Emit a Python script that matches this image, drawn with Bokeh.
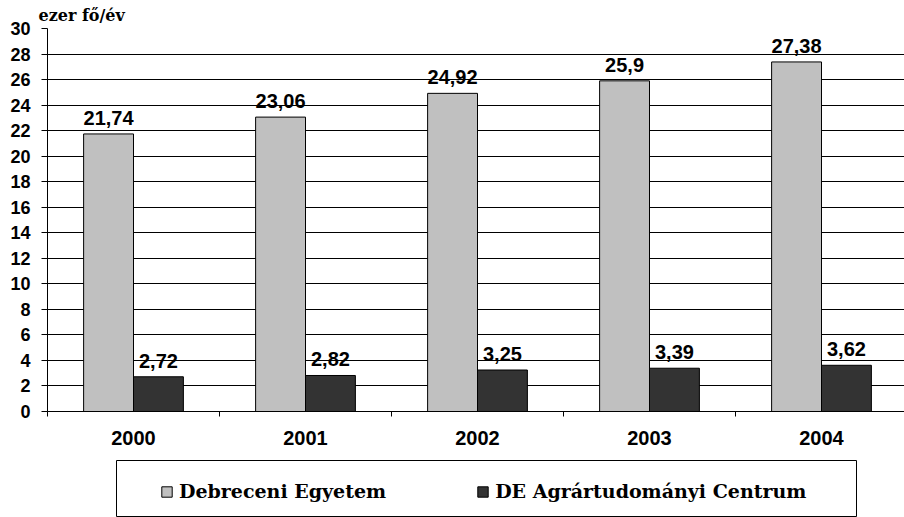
from bokeh.plotting import figure
from bokeh.models import (ColumnDataSource, Range1d, FixedTicker, Legend, LegendItem, Title)
from bokeh.layouts import column
from bokeh.core.properties import value
from bokeh.embed import file_html
from bokeh.resources import INLINE

# ---- data ----
years = ["2000", "2001", "2002", "2003", "2004"]
debreceni = [21.74, 23.06, 24.92, 25.9, 27.38]
agrar = [2.72, 2.82, 3.25, 3.39, 3.62]
series_names = ["Debreceni Egyetem", "DE Agrártudományi Centrum"]
y_ticks = list(range(0, 31, 2))
unit_label = "ezer fő/év"

LIGHT = "#C0C0C0"
DARK = "#333333"

def fmt(v):
    return f"{v:g}".replace(".", ",")

idx = list(range(len(years)))
src1 = ColumnDataSource(dict(x=[i + 0.355 for i in idx], top=debreceni,
                             lab=[fmt(v) for v in debreceni]))
src2 = ColumnDataSource(dict(x=[i + 0.645 for i in idx], top=agrar,
                             lab=[fmt(v) for v in agrar]))

p = figure(width=904, height=460, output_backend="svg", toolbar_location=None,
           x_range=Range1d(0, 857 / 172), y_range=Range1d(0, 30),
           min_border_left=47, min_border_right=0, min_border_top=27, min_border_bottom=49)
p.outline_line_color = None
p.background_fill_color = "white"
p.border_fill_color = "white"

p.vbar(x="x", top="top", bottom=0, width=0.29, source=src1,
       fill_color=LIGHT, line_color="black", line_width=1)
p.vbar(x="x", top="top", bottom=0, width=0.29, source=src2,
       fill_color=DARK, line_color="black", line_width=1)

for s in (src1, src2):
    p.text(x="x", y="top", text="lab", source=s, text_align="center",
           text_baseline="alphabetic", y_offset=-16,
           text_font=value("Liberation Sans"), text_font_style="bold",
           text_font_size="20px", text_color="black")

# y axis
p.yaxis.ticker = FixedTicker(ticks=y_ticks)
p.yaxis.major_label_text_font = "Liberation Sans"
p.yaxis.major_label_text_font_style = "bold"
p.yaxis.major_label_text_font_size = "18px"
p.yaxis.major_label_text_color = "black"
p.yaxis.major_tick_out = 6
p.yaxis.major_tick_in = 0
p.yaxis.minor_tick_line_color = None
p.yaxis.major_label_standoff = 11
p.yaxis.axis_line_color = "black"
p.yaxis.major_tick_line_color = "black"

# x axis
p.xaxis.ticker = FixedTicker(ticks=[i + 0.5 for i in idx], minor_ticks=list(range(len(years) + 1)))
p.xaxis.major_label_overrides = {i + 0.5: y for i, y in zip(idx, years)}
p.xaxis.major_tick_line_color = None
p.xaxis.major_tick_out = 0
p.xaxis.major_tick_in = 0
p.xaxis.minor_tick_out = 5
p.xaxis.minor_tick_in = 0
p.xaxis.minor_tick_line_color = "black"
p.xaxis.major_label_standoff = 14
p.xaxis.major_label_text_font = "Liberation Sans"
p.xaxis.major_label_text_font_style = "bold"
p.xaxis.major_label_text_font_size = "20px"
p.xaxis.major_label_text_color = "black"
p.xaxis.axis_line_color = "black"

p.xgrid.grid_line_color = None
p.ygrid.ticker = FixedTicker(ticks=y_ticks)
p.ygrid.grid_line_color = "black"
p.ygrid.grid_line_width = 1

p.title = Title(text=unit_label, align="left", offset=-9, standoff=7,
                text_font="DejaVu Serif", text_font_style="bold",
                text_font_size="16px", text_color="black")

# legend figure (its frame is aligned with the main frame by the column layout)
lg = figure(width=788, height=57, output_backend="svg", toolbar_location=None,
            x_range=Range1d(0, 1), y_range=Range1d(0, 1),
            min_border=0, min_border_left=0, min_border_right=0,
            min_border_top=0, min_border_bottom=0,
            x_axis_location=None, y_axis_location=None)
lg.margin = (0, 0, 0, 69)
lg.grid.grid_line_color = None
lg.outline_line_color = "black"
lg.outline_line_width = 1
r1 = lg.vbar(x=[5], top=[1], width=0.1, fill_color=LIGHT, line_color="black")
r2 = lg.vbar(x=[5], top=[1], width=0.1, fill_color=DARK, line_color="black")
legend = Legend(items=[LegendItem(label=series_names[0], renderers=[r1]),
                       LegendItem(label=series_names[1], renderers=[r2])],
                orientation="horizontal", location=(44, 15),
                glyph_width=13, glyph_height=13, label_standoff=6, spacing=90,
                padding=0, margin=0, border_line_color=None,
                background_fill_alpha=0,
                label_text_font="DejaVu Serif", label_text_font_style="bold",
                label_text_font_size="19px", label_text_color="black")
lg.add_layout(legend, "center")

layout = column(p, lg, spacing=0)
open("out.html", "w").write(file_html(layout, INLINE))
